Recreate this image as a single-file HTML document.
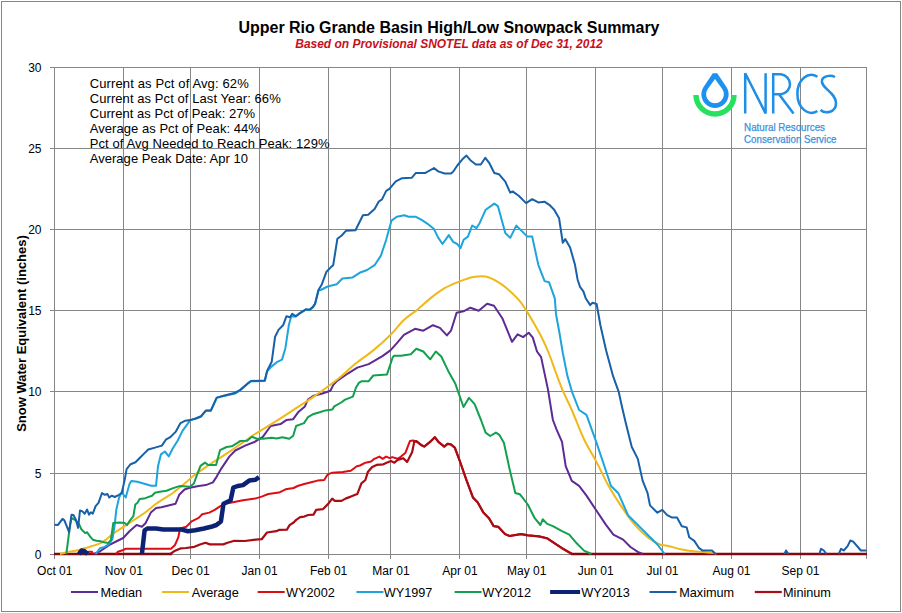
<!DOCTYPE html><html><head><meta charset="utf-8"><style>html,body{margin:0;padding:0;background:#fff;overflow:hidden}svg{display:block}</style></head><body><svg width="902" height="613" viewBox="0 0 902 613">
<rect x="0" y="0" width="902" height="613" fill="#fff"/>
<rect x="1.5" y="1.5" width="899" height="610" fill="none" stroke="#868686" stroke-width="1"/>
<path d="M54.5 67V559M123.5 67V559M190.5 67V559M259.5 67V559M328.5 67V559M390.5 67V559M459.5 67V559M526.5 67V559M595.5 67V559M662.5 67V559M731.5 67V559M800.5 67V559M866.5 67V559M50 554.5H867.0M50 473.5H867.0M50 391.5H867.0M50 310.5H867.0M50 229.5H867.0M50 148.5H867.0M50 67.5H867.0" stroke="#868686" stroke-width="1" fill="none"/>
<text x="41.5" y="559.0" text-anchor="end" font-family="Liberation Sans" font-size="12" fill="#000">0</text>
<text x="41.5" y="478.0" text-anchor="end" font-family="Liberation Sans" font-size="12" fill="#000">5</text>
<text x="41.5" y="396.0" text-anchor="end" font-family="Liberation Sans" font-size="12" fill="#000">10</text>
<text x="41.5" y="315.0" text-anchor="end" font-family="Liberation Sans" font-size="12" fill="#000">15</text>
<text x="41.5" y="234.0" text-anchor="end" font-family="Liberation Sans" font-size="12" fill="#000">20</text>
<text x="41.5" y="153.0" text-anchor="end" font-family="Liberation Sans" font-size="12" fill="#000">25</text>
<text x="41.5" y="72.0" text-anchor="end" font-family="Liberation Sans" font-size="12" fill="#000">30</text>
<text x="54.8" y="574.7" text-anchor="middle" font-family="Liberation Sans" font-size="12" fill="#000">Oct 01</text>
<text x="123.8" y="574.7" text-anchor="middle" font-family="Liberation Sans" font-size="12" fill="#000">Nov 01</text>
<text x="190.6" y="574.7" text-anchor="middle" font-family="Liberation Sans" font-size="12" fill="#000">Dec 01</text>
<text x="259.6" y="574.7" text-anchor="middle" font-family="Liberation Sans" font-size="12" fill="#000">Jan 01</text>
<text x="328.6" y="574.7" text-anchor="middle" font-family="Liberation Sans" font-size="12" fill="#000">Feb 01</text>
<text x="390.9" y="574.7" text-anchor="middle" font-family="Liberation Sans" font-size="12" fill="#000">Mar 01</text>
<text x="459.9" y="574.7" text-anchor="middle" font-family="Liberation Sans" font-size="12" fill="#000">Apr 01</text>
<text x="526.7" y="574.7" text-anchor="middle" font-family="Liberation Sans" font-size="12" fill="#000">May 01</text>
<text x="595.7" y="574.7" text-anchor="middle" font-family="Liberation Sans" font-size="12" fill="#000">Jun 01</text>
<text x="662.5" y="574.7" text-anchor="middle" font-family="Liberation Sans" font-size="12" fill="#000">Jul 01</text>
<text x="731.5" y="574.7" text-anchor="middle" font-family="Liberation Sans" font-size="12" fill="#000">Aug 01</text>
<text x="800.5" y="574.7" text-anchor="middle" font-family="Liberation Sans" font-size="12" fill="#000">Sep 01</text>
<text transform="translate(26.4 333.5) rotate(-90)" x="-98.35" y="0" font-family="Liberation Sans" font-weight="bold" font-size="13" fill="#000" textLength="196.7" lengthAdjust="spacing">Snow Water Equivalent (inches)</text>
<text x="449" y="32.6" text-anchor="middle" font-family="Liberation Sans" font-weight="bold" font-size="16" fill="#000" textLength="421" lengthAdjust="spacing">Upper Rio Grande Basin High/Low Snowpack Summary</text>
<text x="449" y="47.8" text-anchor="middle" font-family="Liberation Sans" font-weight="bold" font-style="italic" font-size="12" fill="#C8101C" textLength="307.5" lengthAdjust="spacing">Based on Provisional SNOTEL data as of Dec 31, 2012</text>
<text x="89.7" y="87.5" font-family="Liberation Sans" font-size="13" fill="#000" textLength="159" lengthAdjust="spacing">Current as Pct of Avg: 62%</text>
<text x="89.7" y="102.7" font-family="Liberation Sans" font-size="13" fill="#000" textLength="191" lengthAdjust="spacing">Current as Pct of Last Year: 66%</text>
<text x="89.7" y="117.9" font-family="Liberation Sans" font-size="13" fill="#000" textLength="165.4" lengthAdjust="spacing">Current as Pct of Peak: 27%</text>
<text x="89.7" y="133.0" font-family="Liberation Sans" font-size="13" fill="#000" textLength="170.2" lengthAdjust="spacing">Average as Pct of Peak: 44%</text>
<text x="89.7" y="148.2" font-family="Liberation Sans" font-size="13" fill="#000" textLength="239.8" lengthAdjust="spacing">Pct of Avg Needed to Reach Peak: 129%</text>
<text x="89.7" y="163.4" font-family="Liberation Sans" font-size="13" fill="#000" textLength="158.3" lengthAdjust="spacing">Average Peak Date: Apr 10</text>
<path d="M71 592H98" stroke="#5E2A94" stroke-width="2" fill="none"/>
<text x="100.5" y="596.6" font-family="Liberation Sans" font-size="12.7" fill="#000">Median</text>
<path d="M162 592H189" stroke="#F0B818" stroke-width="2" fill="none"/>
<text x="191.7" y="596.6" font-family="Liberation Sans" font-size="12.7" fill="#000">Average</text>
<path d="M257.7 592H284.7" stroke="#DC0E14" stroke-width="2" fill="none"/>
<text x="286.1" y="596.6" font-family="Liberation Sans" font-size="12.7" fill="#000">WY2002</text>
<path d="M356.4 592H383.4" stroke="#1EA4DC" stroke-width="2" fill="none"/>
<text x="383.7" y="596.6" font-family="Liberation Sans" font-size="12.7" fill="#000">WY1997</text>
<path d="M454.6 592H481.6" stroke="#12A04E" stroke-width="2" fill="none"/>
<text x="482.3" y="596.6" font-family="Liberation Sans" font-size="12.7" fill="#000">WY2012</text>
<path d="M550.1 592H580.1" stroke="#0C2274" stroke-width="4" fill="none"/>
<text x="581.2" y="596.6" font-family="Liberation Sans" font-size="12.7" fill="#000">WY2013</text>
<path d="M649.5 592H676.5" stroke="#1860A8" stroke-width="2" fill="none"/>
<text x="679.2" y="596.6" font-family="Liberation Sans" font-size="12.7" fill="#000">Maximum</text>
<path d="M754.8 592H781.8" stroke="#A80C14" stroke-width="2.2" fill="none"/>
<text x="783" y="596.6" font-family="Liberation Sans" font-size="12.7" fill="#000">Mininum</text>
<path fill-rule="evenodd" fill="#1E90F0" d="M712.8 73.3H717.2L726.27 86.7A13.6 13.6 0 1 1 703.73 86.7Z M715 79L722.24 89.1A8.9 8.9 0 1 1 707.76 89.1Z"/>
<path d="M696 95 A19 19 0 0 0 734 95" fill="none" stroke="#28E060" stroke-width="5.4"/>
<g fill="none" stroke="#1E8EE6" stroke-width="2.5"><path d="M745.2 113.4V73.2L765.6 113.4V73.2"/><path d="M773.2 113.4V74.3H781A10 10 0 0 1 781 94.2H773.2M779 94.2L793.5 113.4"/><path d="M817.4 76.7A14 19 0 1 0 817.4 111"/><path d="M835 77A8 5 0 0 0 822 80C820 88 836 92 836 103C836 113 825 114 820.5 110"/></g>
<text x="744.1" y="130.6" font-family="Liberation Sans" font-size="10.8" fill="#3A90DC" stroke="#3A90DC" stroke-width="0.25" textLength="80.9" lengthAdjust="spacingAndGlyphs">Natural Resources</text>
<text x="744.1" y="142.7" font-family="Liberation Sans" font-size="10.8" fill="#3A90DC" stroke="#3A90DC" stroke-width="0.25" textLength="92.3" lengthAdjust="spacingAndGlyphs">Conservation Service</text>
<path d="M54 554H172M571 554H867" stroke="#800A10" stroke-width="2.6" fill="none"/>
<path d="M93.9 554.0L100.1 551.3L109.0 545.1L116.1 541.5L123.2 538.0L129.5 531.2L136.6 525.0L141.9 526.8L145.5 523.2L150.8 512.6L156.1 508.1L161.4 507.3L168.5 505.5L175.6 503.7L179.2 494.8L184.5 489.5L189.8 487.7L198.7 486.0L205.8 485.1L212.9 482.4L216.4 477.1L221.6 468.1L229.5 456.4L235.3 450.5L245.1 445.6L255.0 441.7L262.8 436.8L270.7 426.0L280.5 424.1L286.3 420.1L293.2 419.2L298.1 412.3L304.9 406.4L307.9 399.6L313.8 395.7L321.6 393.7L330.4 390.8L333.3 384.9L336.7 381.2L348.2 373.3L357.3 367.6L368.7 364.1L382.4 356.1L390.4 350.4L396.9 343.2L403.9 334.9L415.0 328.8L423.3 330.7L433.0 325.2L439.9 327.9L446.9 335.4L451.0 330.7L456.6 312.7L463.5 311.3L470.4 307.7L478.7 310.7L487.1 303.8L494.0 305.8L502.3 318.2L512.0 341.8L517.6 334.3L523.1 337.1L528.7 332.7L532.8 337.6L537.0 351.5L541.1 357.1L548.0 389.6L552.9 420.0L556.4 429.1L562.0 441.8L565.7 466.2L571.8 480.9L579.1 485.8L586.5 495.6L596.2 510.3L606.0 524.9L613.4 534.7L623.1 539.6L630.5 547.0L637.8 551.8L642.7 554.0" stroke="#5E2A94" stroke-width="2" fill="none" stroke-linejoin="round" stroke-linecap="butt"/>
<path d="M60.0 554.0C61.5 553.6 66.0 552.4 69.1 551.7C72.2 551.0 75.4 550.8 78.8 550.0C82.2 549.2 86.0 548.0 89.5 546.9C93.0 545.8 97.2 544.6 100.1 543.3C103.0 541.9 104.5 540.6 107.0 538.8C109.5 537.0 111.9 534.6 114.8 532.5C117.7 530.4 121.3 528.4 124.6 526.2C127.9 524.1 131.2 521.8 134.4 519.6C137.7 517.5 140.8 515.6 144.1 513.3C147.3 510.9 151.2 507.5 153.9 505.5C156.6 503.5 156.8 503.2 160.0 501.1C163.2 499.0 168.8 495.9 173.1 492.7C177.4 489.5 182.6 485.1 186.1 482.2C189.6 479.3 190.6 478.0 193.9 475.5C197.2 473.0 201.6 470.0 205.7 467.2C209.8 464.4 214.3 461.5 218.7 458.7C223.0 455.9 228.2 452.6 231.8 450.2C235.4 447.8 237.4 446.2 240.0 444.4C242.6 442.6 244.6 441.2 247.1 439.5C249.6 437.8 250.4 436.9 255.0 434.0C259.6 431.1 268.1 426.2 274.6 422.1C281.1 418.0 287.7 413.6 294.2 409.4C300.7 405.1 306.6 401.6 313.8 396.6C321.0 391.6 330.4 384.9 337.3 379.5C344.2 374.1 349.0 369.0 355.0 364.1C361.0 359.2 367.4 355.2 373.3 350.4C379.2 345.5 385.3 340.1 390.4 335.0C395.5 329.9 399.3 324.3 403.9 320.0C408.4 315.7 413.1 313.2 417.7 309.4C422.3 305.6 427.0 301.0 431.6 297.4C436.2 293.8 440.9 290.3 445.5 287.7C450.1 285.1 454.7 283.4 459.3 281.6C463.9 279.8 468.8 277.8 473.2 277.0C477.6 276.2 481.5 275.7 485.7 276.6C489.9 277.5 494.3 279.9 498.2 282.2C502.1 284.5 505.7 287.5 509.2 290.5C512.7 293.5 516.2 297.0 519.0 300.2C521.8 303.4 523.4 306.0 525.9 309.9C528.4 313.8 531.4 318.9 534.2 323.8C537.0 328.7 540.0 334.0 542.5 339.0C545.0 344.0 546.9 348.3 549.1 354.0C551.4 359.7 553.7 366.9 556.0 373.0C558.3 379.1 560.2 384.5 562.8 390.7C565.4 396.9 568.3 401.9 571.8 410.0C575.3 418.1 579.9 430.7 584.0 439.3C588.1 447.9 592.1 453.6 596.2 461.4C600.3 469.1 604.4 478.5 608.5 485.8C612.6 493.1 616.6 499.3 620.7 505.4C624.8 511.5 628.4 517.2 632.9 522.5C637.4 527.8 643.1 533.5 647.6 537.2C652.1 540.9 656.5 543.1 659.8 544.5C663.1 545.9 663.5 544.9 667.2 545.7C670.9 546.5 676.5 548.4 681.8 549.4C687.1 550.4 693.8 551.2 699.0 551.8C704.2 552.4 710.4 552.4 713.2 552.8C716.0 553.2 715.5 553.8 716.0 554.0" stroke="#F0B818" stroke-width="2" fill="none" stroke-linejoin="round" stroke-linecap="butt"/>
<path d="M87.0 554.0L88.5 551.8L92.0 551.8L93.0 554.0M116.1 554.0L118.0 551.7L123.2 550.0L126.0 548.7L171.0 548.7L175.0 545.0L178.3 537.4L180.1 528.5L186.3 526.8L191.6 521.4L198.7 517.9L202.2 514.3L209.3 512.6L214.7 509.9L220.0 506.4L225.3 503.7L234.2 501.9L243.0 500.2L250.1 499.3L255.0 498.6L261.7 496.6L268.3 494.0L279.0 492.6L285.6 489.3L293.6 488.0L297.6 486.0L304.2 484.0L312.2 482.0L317.5 480.6L324.2 480.0L327.5 474.7L332.2 472.7L342.8 472.0L350.8 470.7L356.8 466.2L360.0 465.5L365.5 462.7L371.1 461.6L374.4 458.8L379.4 456.6L382.7 458.8L386.1 456.6L389.9 458.2L392.2 457.1L397.7 458.8L401.0 456.6L405.5 452.7L409.9 441.1L413.2 440.5L417.6 442.2L421.0 444.9L424.3 446.6L431.0 441.1L434.8 437.2L438.7 442.2L444.3 446.6L447.6 443.8L450.9 444.4L454.8 447.7L459.8 461.0L466.2 479.3L473.0 497.6L477.6 502.2L483.3 512.4L489.0 518.2L493.6 526.1L498.2 526.8L505.0 534.1L509.6 536.0L521.0 534.1L527.8 535.3L539.2 536.4L547.3 538.4L554.7 543.3L562.0 548.2L571.8 553.6" stroke="#DC0E14" stroke-width="2" fill="none" stroke-linejoin="round" stroke-linecap="butt"/>
<path d="M61.1 554.0M95.7 554.0L100.1 548.2L104.6 546.9L109.0 544.2L112.5 538.9L114.6 525.3L116.4 509.2L119.1 497.5L121.7 492.2L122.7 493.6L125.7 497.5L129.6 483.8L131.5 480.9L137.4 481.8L144.3 483.8L151.1 485.8L156.0 485.8L158.0 466.2L160.9 454.4L164.8 451.5L168.8 456.4L172.7 448.5L177.6 440.7L182.5 430.9L187.4 424.1L190.3 420.1L196.2 418.5L201.1 416.5L206.0 410.7L210.9 410.7L216.7 397.9L223.6 396.0L235.3 393.5L240.2 390.5L247.1 384.2L251.0 381.3L264.8 380.9L267.1 371.3L271.7 366.4L277.4 361.8L282.0 359.6L285.4 348.2L288.8 325.3L291.1 316.5L295.7 316.5L300.2 313.1L305.9 309.6L309.3 310.1L312.8 307.4L315.1 304.0L318.5 290.2L320.8 290.0L327.6 286.5L336.7 284.2L342.4 278.5L352.7 277.4L359.6 272.8L367.1 270.0L374.6 265.2L380.9 255.6L386.2 239.7L391.5 220.6L396.8 216.8L404.3 215.3L408.5 216.8L415.9 216.8L421.2 219.6L427.6 223.8L434.0 229.1L438.2 237.6L442.5 244.0L448.8 235.1L453.1 241.9L457.3 244.0L460.5 248.2L463.7 239.7L467.9 236.6L472.2 225.5L476.4 228.1L479.6 223.2L485.7 209.7L494.3 203.6L497.9 206.1L505.3 233.0L510.2 237.9L516.3 225.6L527.3 236.6L532.2 236.6L538.3 264.8L544.6 281.1L549.1 282.3L554.8 298.3L556.0 314.2L559.4 332.5L562.8 353.0L567.4 375.9L572.0 391.8L579.1 410.0L586.5 414.9L596.2 441.8L603.6 463.8L610.9 485.8L618.3 493.2L628.0 515.2L637.8 524.9L647.6 534.7L657.4 544.5L664.7 554.0" stroke="#1EA4DC" stroke-width="2" fill="none" stroke-linejoin="round" stroke-linecap="butt"/>
<path d="M66.3 554.0L68.2 539.7L69.6 528.4L71.5 518.0L75.8 520.3L79.1 524.1L81.4 529.3L85.2 533.1L87.1 532.2L90.0 536.4L92.8 539.7L96.6 540.7L100.4 541.2L105.1 542.6L108.4 543.0L110.3 540.7L110.9 540.0L113.3 523.0L119.7 522.6L124.6 523.0L127.0 525.0L129.5 521.1L133.4 516.2L135.3 504.5L137.3 503.0L139.7 499.1L144.1 498.6L148.1 497.1L152.0 495.7L154.9 492.7L159.8 491.7L166.5 490.7L173.1 488.1L179.6 486.1L190.0 486.8L193.9 483.5L197.2 474.4L200.5 465.9L205.0 462.6L208.3 465.0L216.1 465.0L220.0 450.2L226.6 447.0L231.8 446.3L237.0 443.1L240.0 441.1L247.1 440.7L252.0 436.8L256.9 438.8L262.8 438.8L271.6 437.8L276.5 438.4L282.4 437.2L289.3 438.8L293.2 435.8L296.1 426.0L304.0 423.1L307.9 417.2L312.8 414.3L319.6 412.3L325.5 410.4L332.4 409.4L334.3 406.4L341.2 402.5L345.1 399.6L352.9 396.6L355.9 387.8L358.8 382.9L361.8 381.2L368.7 381.2L373.3 375.5L387.0 374.4L392.7 357.3L394.2 355.7L401.1 355.7L410.8 354.3L416.3 348.7L423.3 351.5L430.2 359.3L435.8 351.5L441.3 356.5L448.2 370.9L455.2 383.4L463.5 407.0L469.0 397.8L474.6 404.2L481.0 420.0L485.6 432.6L490.2 436.0L495.9 432.6L499.3 434.8L503.9 442.8L509.6 469.1L515.3 493.0L519.8 494.2L527.8 504.5L534.7 518.2L540.4 525.0L542.7 519.3L547.2 523.9L552.9 526.1L562.0 531.1L569.3 534.7L576.7 543.3L584.0 550.6L591.4 554.0" stroke="#12A04E" stroke-width="2" fill="none" stroke-linejoin="round" stroke-linecap="butt"/>
<path d="M54.0 554.0M78.8 554.0L81.5 550.6L84.2 551.0L87.7 554.0M141.9 554.0L144.6 530.3L147.3 528.5L156.1 528.5L163.2 529.4L172.1 529.4L181.0 529.4L188.0 531.2L195.1 530.3L204.0 528.5L211.1 526.8L216.4 525.0L220.9 521.4L223.5 503.7L227.1 501.9L230.6 500.2L233.3 487.7L237.7 486.0L243.0 485.1L249.2 480.6L255.5 479.8L259.0 477.1" stroke="#0C2274" stroke-width="4.5" fill="none" stroke-linejoin="round" stroke-linecap="butt"/>
<path d="M54.5 524.8L57.8 525.1L62.5 518.9L64.4 520.3L69.1 532.2L71.5 514.7L73.4 515.1L75.8 519.4L78.1 527.9L80.0 510.4L82.4 511.4L84.7 513.7L87.1 509.5L89.0 514.7L90.9 512.3L92.8 513.7L95.6 506.1L98.5 502.8L102.0 493.0L104.7 494.8L107.4 493.9L109.2 497.5L111.9 495.7L114.6 497.0L119.1 494.8L121.7 493.0L124.7 479.9L126.6 469.1L130.6 464.2L135.5 462.3L139.4 458.3L144.3 453.4L148.2 449.5L155.0 447.6L161.9 445.6L165.8 439.7L170.7 436.8L175.6 431.9L180.5 423.1L185.4 420.7L190.3 420.1L196.2 418.2L201.1 416.2L206.0 410.4L210.9 410.4L216.7 397.6L223.6 395.7L235.3 392.7L240.2 389.8L247.1 383.9L251.0 381.0L264.8 380.6L267.1 371.0L271.7 361.8L275.1 336.7L278.5 329.9L283.1 325.3L286.5 316.2L290.0 317.3L292.2 313.9L295.7 316.2L300.2 312.8L305.9 309.3L309.3 309.8L312.8 307.1L315.1 303.6L318.5 289.9L321.9 284.2L326.5 271.7L331.0 267.1L333.2 265.2L337.4 238.7L341.7 235.5L345.9 230.8L355.5 230.2L362.9 215.3L368.2 214.7L374.6 209.0L378.8 201.5L382.0 199.4L386.2 190.9L389.4 188.8L395.8 181.4L402.1 178.2L411.7 177.8L415.9 172.9L425.5 172.9L434.0 168.0L438.2 171.4L444.6 173.5L451.0 173.5L453.1 171.8L457.3 165.5L462.6 159.1L466.5 155.6L471.0 160.8L475.9 164.5L480.8 164.5L485.3 157.8L489.4 163.2L494.3 173.0L499.1 174.3L505.3 181.6L510.2 192.6L512.6 191.4L518.7 195.8L526.1 203.1L532.2 199.2L538.3 202.4L544.4 201.7L549.3 204.8L554.2 209.7L559.1 218.3L562.8 242.8L565.2 239.1L570.1 247.6L575.0 264.8L577.7 280.0L580.0 286.8L583.4 291.4L585.7 298.3L590.2 305.1L592.5 302.8L596.6 304.0L600.5 325.7L606.2 350.8L613.0 375.9L618.7 391.8L622.2 407.8L625.6 422.2L631.7 446.7L637.8 458.9L642.7 480.9L647.6 493.2L650.0 505.4L657.4 512.7L662.3 509.8L667.2 515.2L672.1 517.6L677.0 517.6L681.8 526.2L686.7 527.4L689.2 537.2L694.3 540.9L699.1 548.2L702.8 550.6L712.0 550.6L715.6 554.0M784.4 554.0L786.1 550.5L788.3 554.0M819.4 554.0L821.0 548.8L823.8 550.5L826.6 554.0M838.8 554.0L841.0 548.8L843.7 550.5L847.6 546.1L850.4 540.5L853.2 541.6L860.9 550.5L866.5 550.5" stroke="#1860A8" stroke-width="2" fill="none" stroke-linejoin="round" stroke-linecap="butt"/>
<path d="M54.0 554.0M170.3 554.0L174.0 551.3L178.0 549.5L181.0 548.3L186.0 548.0L194.3 546.8L200.0 544.5L205.4 542.8L209.9 544.4L223.2 544.4L227.6 542.8L234.3 540.8L244.8 541.0L255.5 539.6L261.7 539.2L267.0 532.5L276.3 531.2L279.0 529.9L286.9 529.6L289.6 525.2L293.6 522.5L296.2 519.9L300.2 517.2L304.2 516.6L308.2 515.0L313.5 514.6L316.2 509.9L322.8 509.2L328.2 503.9L332.2 498.6L334.8 500.9L341.5 500.9L345.5 498.6L350.8 496.6L357.4 493.9L361.4 483.3L365.4 480.0L367.8 472.1L372.2 467.1L376.6 464.9L383.3 464.3L386.6 462.7L391.0 461.0L394.4 462.7L397.7 459.9L403.2 458.2L407.1 461.9L412.1 452.2L414.3 441.6L416.5 441.1L421.0 444.9L424.3 446.6L431.0 441.1L434.8 437.2L438.7 442.2L444.3 446.6L447.6 443.8L450.9 444.4L454.8 447.7L459.8 461.0L466.2 479.3L473.0 497.6L477.6 502.2L483.3 512.4L489.0 518.2L493.6 526.1L498.2 526.8L505.0 534.1L509.6 536.0L521.0 534.1L527.8 535.3L539.2 536.4L547.3 538.4L554.7 543.3L562.0 548.2L571.8 554.0M866.5 554.0" stroke="#A80C14" stroke-width="2.2" fill="none" stroke-linejoin="round" stroke-linecap="butt"/>
</svg></body></html>
